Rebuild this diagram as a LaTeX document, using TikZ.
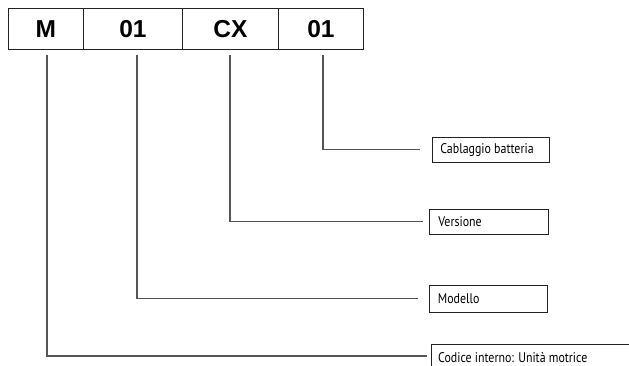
\documentclass[tikz,border=0pt]{standalone}
\usepackage{fontspec}
\setmainfont{Liberation Sans}
\newfontfamily\labfont[FakeStretch=0.85]{PT Sans}
\definecolor{linegray}{HTML}{555555}
\definecolor{boxline}{HTML}{222222}
\newcommand{\lefttext}[1]{\makebox[101pt][l]{#1}}
\begin{document}
\begin{tikzpicture}[x=1pt,y=-1pt,
  codebox/.style={draw=boxline,line width=0.9pt,minimum height=41pt,inner sep=0pt,
    font=\fontsize{24.5}{24.5}\selectfont\bfseries,anchor=north west},
  labbox/.style={draw=boxline,line width=0.8pt,minimum width=117pt,minimum height=25pt,
    inner sep=0pt,anchor=north west,
    font=\labfont\fontsize{14}{14}\selectfont},
  labtext/.style={inner sep=0pt,anchor=base west,font=\labfont\fontsize{14}{14}\selectfont},
  conn/.style={draw=linegray,line width=1.1pt}]
\useasboundingbox (0,0) rectangle (629,366);
\clip (0,0) rectangle (629,366);
\fill[white] (0,0) rectangle (629,366);
% code boxes
\node[codebox,minimum width=75pt] (m) at (8,8) {M};
\node[codebox,minimum width=99pt] (a) at (83,8) {01};
\node[codebox,minimum width=96pt] (cx) at (182,8) {CX};
\node[codebox,minimum width=85pt] (b) at (278,8) {01};
% label boxes
\node[labbox] (cab) at (432,137) {\lefttext{Cablaggio batteria}};
\node[labbox,minimum width=119pt] (ver) at (429,209) {\lefttext{Versione}};
\node[labbox,minimum width=118pt,minimum height=27pt] (mod) at (429,285) {\lefttext{Modello}};
\node[labtext] (cod) at (438,362) {Codice interno: Unità motrice};
\draw[boxline,line width=0.8pt] (431,372) |- (640,344);
% start points
\coordinate (sm) at (47,55);
\coordinate (sa) at (137,55);
\coordinate (scx) at (230,55);
\coordinate (sb) at (323,55);
\coordinate (ecod) at (427,356);
% connectors
\draw[conn] (sb) |- ([xshift=-12pt]cab.west);
\draw[conn] (scx) |- ([xshift=-6pt]ver.west);
\draw[conn] (sa) |- ([xshift=-11pt]mod.west);
\draw[conn] (sm) |- (ecod);
\end{tikzpicture}
\end{document}
